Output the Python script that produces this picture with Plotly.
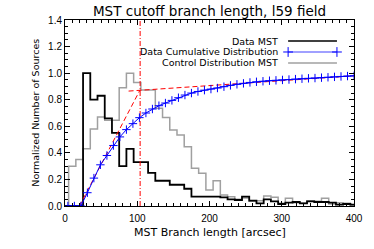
import plotly.graph_objects as go

# ---------------- data ----------------
bin_centers = [0, 10, 20, 30, 40, 50, 60, 70, 80, 90, 100, 110, 120, 130, 140,
               150, 160, 170, 180, 190, 200, 210, 220, 230, 240, 250, 260, 270,
               280, 290, 300, 310, 320, 330, 340, 350, 360, 370, 380, 390, 400]
bin_width = 10

data_mst = [0.0, 0.0, 0.0, 1.0, 0.80, 0.83, 0.66, 0.55, 0.30, 0.43, 0.33, 0.33,
            0.25, 0.19, 0.19, 0.16, 0.16, 0.13, 0.07, 0.07, 0.07, 0.07, 0.065,
            0.05, 0.045, 0.07, 0.04, 0.02, 0.05, 0.035, 0.015, 0.025, 0.03,
            0.02, 0.035, 0.03, 0.03, 0.025, 0.01, 0.015, 0.01]

control_mst = [0.0, 0.30, 0.35, 0.43, 0.58, 0.67, 0.645, 0.645, 0.89, 1.0, 0.93,
               0.873, 0.873, 0.735, 0.667, 0.572, 0.534, 0.446, 0.284, 0.246,
               0.12, 0.19, 0.083, 0.07, 0.05, 0.06, 0.035, 0.04, 0.075, 0.065,
               0.02, 0.058, 0.025, 0.02, 0.04, 0.035, 0.058, 0.015, 0.025, 0.02,
               0.0]

cum_x = [4, 13, 22, 31, 40, 49, 58, 67, 76, 85, 94, 103, 112, 121, 130, 139,
         148, 157, 166, 175, 184, 193, 202, 211, 220, 229, 238, 247, 256, 265,
         274, 283, 292, 301, 310, 319, 328, 337, 346, 355, 364, 373, 382, 391, 400]
cum_y = [0.0, 0.0, 0.0, 0.10, 0.21, 0.31, 0.38, 0.455, 0.52, 0.575, 0.62,
         0.665, 0.70, 0.73, 0.755, 0.775, 0.795, 0.815, 0.835, 0.85, 0.862,
         0.872, 0.88, 0.888, 0.898, 0.908, 0.916, 0.923, 0.93, 0.935, 0.939,
         0.943, 0.946, 0.949, 0.952, 0.955, 0.958, 0.961, 0.963, 0.966, 0.969,
         0.972, 0.975, 0.978, 0.98]

fit_rise_x = [20, 104]
fit_rise_y = [0.0, 0.875]
fit_tail_x = [88, 400]
fit_tail_y = [0.865, 0.98]
cutoff_length = 104

x_ticks = [0, 100, 200, 300, 400]
y_ticks = [0.0, 0.2, 0.4, 0.6, 0.8, 1.0, 1.2, 1.4]

legend_labels = ["Data MST", "Data Cumulative Distribution", "Control Distribution MST"]

# ---------------- figure ----------------
def step_xy(centers, values, width):
    xs = [c - width / 2 for c in centers] + [centers[-1] + width / 2]
    ys = list(values) + [values[-1]]
    return xs, ys

BLACK = "#000000"
GRAY = "#a0a0a0"
BLUE = "#0000ff"
RED = "#ff0000"
FONT = "DejaVu Sans"

fig = go.Figure()

gx, gy = step_xy(bin_centers, control_mst, bin_width)
fig.add_trace(go.Scatter(x=gx, y=gy, mode="lines", line=dict(color=GRAY, width=1.5, shape="hv")))

bx, by = step_xy(bin_centers, data_mst, bin_width)
fig.add_trace(go.Scatter(x=bx, y=by, mode="lines", line=dict(color=BLACK, width=1.8, shape="hv")))

fig.add_trace(go.Scatter(x=fit_rise_x, y=fit_rise_y, mode="lines",
                         line=dict(color=RED, width=1, dash="5px,3px")))
fig.add_trace(go.Scatter(x=fit_tail_x, y=fit_tail_y, mode="lines",
                         line=dict(color=RED, width=1, dash="5px,3px")))
fig.add_trace(go.Scatter(x=[cutoff_length, cutoff_length], y=[0, 1.4], mode="lines",
                         line=dict(color=RED, width=1, dash="5px,2px,1px,2px")))

fig.add_trace(go.Scatter(x=cum_x, y=cum_y, mode="lines+markers",
                         line=dict(color=BLUE, width=1),
                         marker=dict(symbol="cross-thin", size=6,
                                     line=dict(color=BLUE, width=1), color=BLUE)))

# legend samples on an overlay axis in [0,1] coordinates
leg_y = [0.887, 0.828, 0.769]
fig.add_trace(go.Scatter(x=[0.772, 0.941], y=[leg_y[0]] * 2, mode="lines",
                         line=dict(color=BLACK, width=1.5), xaxis="x2", yaxis="y2"))
fig.add_trace(go.Scatter(x=[0.772, 0.941], y=[leg_y[1]] * 2, mode="lines+markers",
                         line=dict(color="#8080ff", width=1.5),
                         marker=dict(symbol="cross-thin", size=7,
                                     line=dict(color=BLUE, width=1)),
                         xaxis="x2", yaxis="y2"))
fig.add_trace(go.Scatter(x=[0.772, 0.941], y=[leg_y[2]] * 2, mode="lines",
                         line=dict(color=GRAY, width=1.5), xaxis="x2", yaxis="y2"))

annotations = []
for lab, yy in zip(legend_labels, leg_y):
    annotations.append(dict(text=lab, x=0.745, y=yy, xref="paper", yref="paper",
                            xanchor="right", yanchor="middle", showarrow=False,
                            font=dict(family=FONT, size=9.5, color=BLACK)))
annotations.append(dict(text="MST Branch length [arcsec]", x=0.5, y=-0.145,
                        xref="paper", yref="paper", xanchor="center", yanchor="middle",
                        showarrow=False, font=dict(family=FONT, size=11, color=BLACK)))
annotations.append(dict(text="Normalized Number of Sources", x=-0.105, y=0.5,
                        xref="paper", yref="paper", xanchor="center", yanchor="middle",
                        textangle=-90, showarrow=False,
                        font=dict(family=FONT, size=9.5, color=BLACK)))

axis_common = dict(showline=True, linecolor=BLACK, linewidth=1, mirror="ticks",
                   ticks="inside", ticklen=5, tickwidth=1, tickcolor=BLACK,
                   showgrid=False, zeroline=False, automargin=False,
                   tickfont=dict(family="Liberation Sans", size=10, color=BLACK))

fig.update_layout(
    width=374, height=249,
    margin=dict(l=65, r=20, t=20, b=43, autoexpand=False),
    plot_bgcolor="white", paper_bgcolor="white",
    showlegend=False,
    title=dict(text="MST cutoff branch length, l59 field", x=0.5, xref="paper",
               y=1 - 11 / 249, yref="container", xanchor="center", yanchor="middle",
               font=dict(family=FONT, size=13.5, color=BLACK)),
    xaxis=dict(range=[0, 400], tickvals=x_ticks, ticklabelstandoff=3,
               minor=dict(ticks="inside", ticklen=3, dtick=10, tick0=0,
                          tickcolor=BLACK, showgrid=False),
               **axis_common),
    yaxis=dict(range=[0, 1.4], tickvals=y_ticks, tickformat=".1f",
               minor=dict(ticks="inside", ticklen=3, dtick=0.05, tick0=0,
                          tickcolor=BLACK, showgrid=False),
               **axis_common),
    xaxis2=dict(overlaying="x", range=[0, 1], visible=False),
    yaxis2=dict(overlaying="y", range=[0, 1], visible=False),
    annotations=annotations,
)

fig.write_html("out.html", config={"displayModeBar": False},
               post_script="document.body.style.margin='0';document.body.style.padding='0';")
